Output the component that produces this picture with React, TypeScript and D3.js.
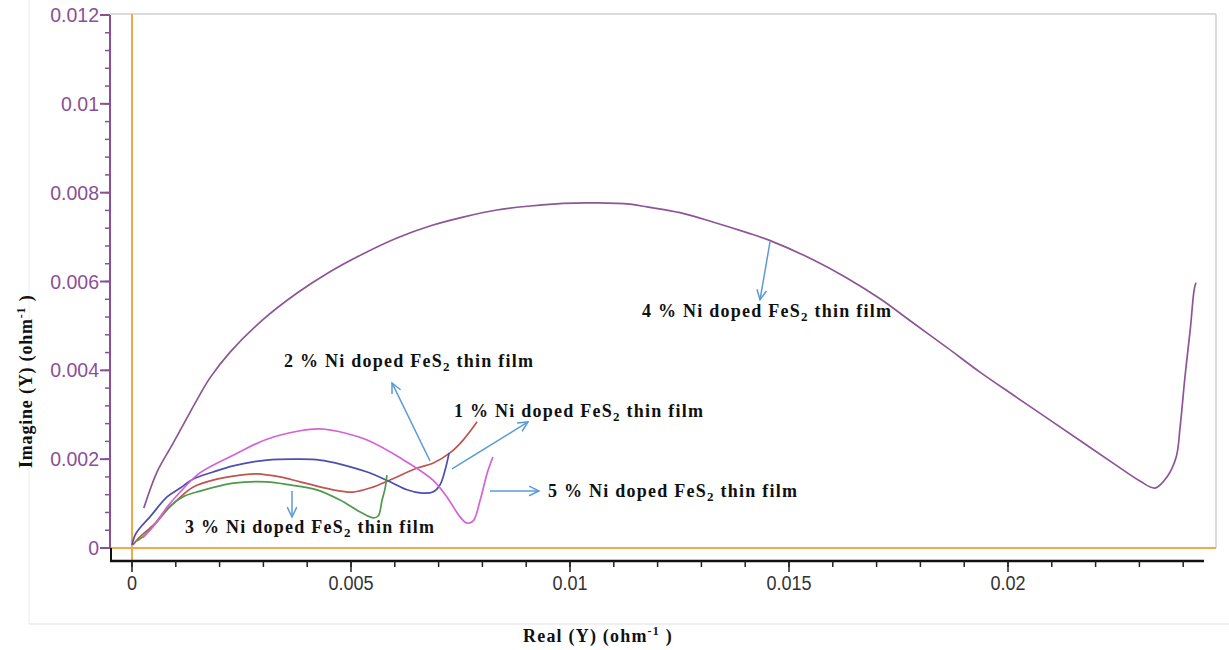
import React from "react";
import * as d3 from "d3";

type Pt = [number, number];

// Nyquist admittance data: [Real(Y), Imag(Y)] in ohm^-1
const ni1Pct: Pt[] = [
  [0.00002, 0.00007], [0.00018, 0.00025], [0.00041, 0.00045], [0.00057, 0.00059],
  [0.0008, 0.00086], [0.00103, 0.00108], [0.00139, 0.00137], [0.00194, 0.00155],
  [0.00247, 0.00164], [0.00285, 0.00167], [0.00338, 0.0016], [0.00384, 0.00149],
  [0.00459, 0.00131], [0.00505, 0.00126], [0.0055, 0.00137], [0.00589, 0.00153],
  [0.00651, 0.0018], [0.00687, 0.00191], [0.00726, 0.00214], [0.00756, 0.00243],
  [0.00788, 0.00284],
];

const ni2Pct: Pt[] = [
  [0.0, 0.00007], [0.00007, 0.00029], [0.00018, 0.00045], [0.00041, 0.0007],
  [0.0008, 0.00115], [0.0011, 0.00135], [0.00139, 0.00155], [0.00185, 0.00171],
  [0.00231, 0.00185], [0.00308, 0.00198], [0.00384, 0.002], [0.00429, 0.00198],
  [0.00475, 0.00189], [0.00537, 0.00171], [0.00589, 0.00149], [0.00628, 0.00131],
  [0.00658, 0.00124], [0.00687, 0.00126], [0.00703, 0.00142], [0.00715, 0.00176],
  [0.00724, 0.00214],
];

const ni3Pct: Pt[] = [
  [0.00011, 0.00016], [0.00025, 0.00025], [0.00041, 0.00041], [0.0008, 0.00088],
  [0.00116, 0.00115], [0.00155, 0.00128], [0.00231, 0.00146], [0.00308, 0.00149],
  [0.00361, 0.00142], [0.00422, 0.00131], [0.00475, 0.00108], [0.00521, 0.00081],
  [0.0055, 0.00068], [0.00562, 0.00072], [0.00571, 0.00108], [0.00578, 0.00135],
  [0.00582, 0.00164],
];

const ni4Pct: Pt[] = [
  [0.00027, 0.0009], [0.00057, 0.00171], [0.00094, 0.00236], [0.00148, 0.00333],
  [0.00178, 0.00383], [0.00224, 0.00441], [0.00299, 0.00514], [0.00377, 0.00574],
  [0.00452, 0.00622], [0.00527, 0.00662], [0.00605, 0.00698], [0.0068, 0.00725],
  [0.00756, 0.00745], [0.00833, 0.00761], [0.00909, 0.0077], [0.00984, 0.00776],
  [0.01062, 0.00777], [0.01137, 0.00774], [0.01176, 0.00768], [0.01251, 0.00755],
  [0.01326, 0.00734], [0.01404, 0.0071], [0.01457, 0.00692], [0.01555, 0.00649],
  [0.01632, 0.00608], [0.01708, 0.00561], [0.01783, 0.00507], [0.01861, 0.00451],
  [0.01936, 0.00396], [0.02011, 0.00345], [0.02096, 0.00288], [0.02176, 0.00234],
  [0.02249, 0.00185], [0.02301, 0.00151], [0.02336, 0.00135], [0.02363, 0.0016],
  [0.02384, 0.00205], [0.02393, 0.00273], [0.02404, 0.00385], [0.02416, 0.00491],
  [0.02425, 0.00581], [0.02429, 0.00597],
];

const ni5Pct: Pt[] = [
  [0.00025, 0.00023], [0.00053, 0.00054], [0.0008, 0.00092], [0.0011, 0.00126],
  [0.00155, 0.00169], [0.00231, 0.00209], [0.00308, 0.00245], [0.00384, 0.00264],
  [0.00429, 0.00268], [0.00486, 0.00259], [0.00537, 0.00243], [0.00612, 0.00203],
  [0.00687, 0.00153], [0.00719, 0.00115], [0.00749, 0.0007], [0.00765, 0.00056],
  [0.00779, 0.00061], [0.00795, 0.00108], [0.00811, 0.00169], [0.00824, 0.00205],
];

const xTickValues = [0, 0.005, 0.01, 0.015, 0.02];
const xTickLabels = ["0", "0.005", "0.01", "0.015", "0.02"];
const yTickValues = [0, 0.002, 0.004, 0.006, 0.008, 0.01, 0.012];
const yTickLabels = ["0", "0.002", "0.004", "0.006", "0.008", "0.01", "0.012"];

const seriesList = [
  { key: "1", data: ni1Pct, color: "#c0544f" },
  { key: "2", data: ni2Pct, color: "#4b4fb0" },
  { key: "3", data: ni3Pct, color: "#4d9a4b" },
  { key: "4", data: ni4Pct, color: "#8d5596" },
  { key: "5", data: ni5Pct, color: "#d562d6" },
];

// Annotation text anchors (data units): [x, y] of the text start / baseline
const labelPercents = ["4", "2", "1", "5", "3"];
const labelAnchors: Pt[] = [
  [0.011644, 0.005203],
  [0.00347, 0.004077],
  [0.007352, 0.00295],
  [0.009498, 0.001149],
  [0.00121, 0.000338],
];

// Pointer arrows (data units): from -> to
const arrowFrom: Pt[] = [
  [0.014566, 0.006892],
  [0.006804, 0.001959],
  [0.007306, 0.001779],
  [0.008174, 0.001284],
  [0.003653, 0.001284],
];
const arrowTo: Pt[] = [
  [0.014338, 0.005586],
  [0.005936, 0.003716],
  [0.009041, 0.002838],
  [0.009292, 0.001284],
  [0.003653, 0.000698],
];

const W = 1229;
const H = 650;
const frameLeft = 110;
const frameRight = 1216;
const frameTop = 14;
const axisY = 561;
const axisEnd = 1204;

export default function App() {
  const x = d3.scaleLinear().domain([0, 0.02]).range([132, 1008]);
  const y = d3.scaleLinear().domain([0, 0.012]).range([548, 15]);
  const y0 = y(0);

  const line = d3
    .line<Pt>()
    .x((d) => x(d[0]))
    .y((d) => y(d[1]))
    .curve(d3.curveCatmullRom.alpha(0.5));

  const yMinor = d3.range(0, 0.01201, 0.0004);
  const xMinor = d3.range(0, 0.02401, 0.001);

  const arrowColor = "#5b9bd5";

  const arrowHead = (from: Pt, to: Pt) => {
    const fx = x(from[0]);
    const fy = y(from[1]);
    const tx = x(to[0]);
    const ty = y(to[1]);
    const ang = Math.atan2(ty - fy, tx - fx);
    const len = 11;
    const spread = 0.45;
    const p1 = [tx - len * Math.cos(ang - spread), ty - len * Math.sin(ang - spread)];
    const p2 = [tx - len * Math.cos(ang + spread), ty - len * Math.sin(ang + spread)];
    return `M${p1[0]},${p1[1]}L${tx},${ty}L${p2[0]},${p2[1]}`;
  };

  return (
    <svg
      width={W}
      height={H}
      style={{ position: "absolute", left: 0, top: 0, background: "#ffffff" }}
    >
      <rect x={0} y={0} width={W} height={H} fill="#ffffff" />
      {/* outer faint border */}
      <line x1={29} y1={0} x2={29} y2={624} stroke="#ececec" strokeWidth={1} />
      <line x1={29} y1={624} x2={W} y2={624} stroke="#e2e2e2" strokeWidth={1} />

      {/* plot frame */}
      <line x1={frameLeft} y1={frameTop} x2={frameRight} y2={frameTop} stroke="#cfcfcf" strokeWidth={1.5} />
      <line x1={frameRight} y1={frameTop} x2={frameRight} y2={y0} stroke="#cfcfcf" strokeWidth={1.5} />

      {/* zero reference lines */}
      <line x1={x(0)} y1={frameTop} x2={x(0)} y2={axisY} stroke="#efa84a" strokeWidth={2} />
      <line x1={frameLeft} y1={y0} x2={frameRight} y2={y0} stroke="#efa84a" strokeWidth={2} />

      {/* y axis */}
      <line x1={frameLeft} y1={y(0.012)} x2={frameLeft} y2={y0} stroke="#8b4f98" strokeWidth={2} />
      {yMinor.map((v, i) => (
        <line key={"ym" + i} x1={frameLeft - 5} y1={y(v)} x2={frameLeft} y2={y(v)} stroke="#8b4f98" strokeWidth={1.5} />
      ))}
      {yTickValues.map((v, i) => (
        <g key={"yt" + i}>
          <line x1={frameLeft - 10} y1={y(v)} x2={frameLeft} y2={y(v)} stroke="#8b4f98" strokeWidth={2} />
          <text
            x={frameLeft - 11}
            y={y(v)}
            dy="0.36em"
            textAnchor="end"
            fontFamily="'Liberation Sans', Arial, sans-serif"
            fontSize={19.5}
            fill="#8b4f98"
          >
            {yTickLabels[i]}
          </text>
        </g>
      ))}

      {/* x axis */}
      <line x1={frameLeft + 1} y1={y0} x2={frameLeft + 1} y2={axisY} stroke="#111" strokeWidth={2} />
      <line x1={frameLeft} y1={axisY} x2={axisEnd} y2={axisY} stroke="#111" strokeWidth={2.5} />
      {xMinor.map((v, i) => (
        <line key={"xm" + i} x1={x(v)} y1={axisY} x2={x(v)} y2={axisY + 6} stroke="#222" strokeWidth={1.5} />
      ))}
      {xTickValues.map((v, i) => (
        <g key={"xt" + i}>
          <line x1={x(v)} y1={axisY} x2={x(v)} y2={axisY + 11} stroke="#222" strokeWidth={1.5} />
          <text
            transform={`translate(${x(v)},${axisY + 29}) scale(0.88,1)`}
            textAnchor="middle"
            fontFamily="'Liberation Sans', Arial, sans-serif"
            fontSize={20.5}
            fill="#333"
          >
            {xTickLabels[i]}
          </text>
        </g>
      ))}

      {/* data curves */}
      {seriesList.map((s) => (
        <path key={s.key} d={line(s.data) || ""} fill="none" stroke={s.color} strokeWidth={1.7} strokeLinejoin="round" />
      ))}

      {/* pointer arrows */}
      {arrowFrom.map((f, i) => (
        <g key={"ar" + i} stroke={arrowColor} strokeWidth={1.5} fill="none">
          <line x1={x(f[0])} y1={y(f[1])} x2={x(arrowTo[i][0])} y2={y(arrowTo[i][1])} />
          <path d={arrowHead(f, arrowTo[i])} />
        </g>
      ))}

      {/* series labels */}
      {labelAnchors.map((p, i) => (
        <text
          key={"lb" + i}
          x={x(p[0])}
          y={y(p[1])}
          fontFamily="'Liberation Serif', 'Times New Roman', serif"
          fontWeight="bold"
          fontSize={18}
          letterSpacing={1.25}
          fill="#111"
        >
          {labelPercents[i]} % Ni doped FeS
          <tspan fontSize={13} dy={4}>2</tspan>
          <tspan dy={-4}> thin film</tspan>
        </text>
      ))}

      {/* axis titles */}
      <text
        x={523}
        y={642}
        fontFamily="'Liberation Serif', 'Times New Roman', serif"
        fontWeight="bold"
        fontSize={18}
        letterSpacing={1.2}
        fill="#111"
      >
        Real (Y) (ohm
        <tspan fontSize={12} dy={-7}>-1</tspan>
        <tspan dy={7}> )</tspan>
      </text>
      <text
        transform="translate(32,468) rotate(-90)"
        fontFamily="'Liberation Serif', 'Times New Roman', serif"
        fontWeight="bold"
        fontSize={18}
        letterSpacing={0.8}
        fill="#111"
      >
        Imagine (Y) (ohm
        <tspan fontSize={12} dy={-7}>-1</tspan>
        <tspan dy={7}> )</tspan>
      </text>
    </svg>
  );
}
